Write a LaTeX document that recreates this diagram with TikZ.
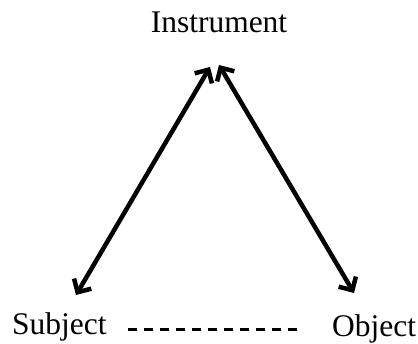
\documentclass[tikz,border=0pt]{standalone}
\usepackage{fontspec}
\setmainfont{Liberation Serif}
\usetikzlibrary{arrows.meta}
\begin{document}
\begin{tikzpicture}[x=1pt,y=1pt,
  lbl/.style={inner sep=0pt,font=\fontsize{31.5}{36}\selectfont},
  dbl/.style={line width=4.5pt,{Straight Barb[length=10pt,width=20pt]}-{Straight Barb[length=10pt,width=20pt]}},
  dsh/.style={line width=3pt,dash pattern=on 9pt off 7pt}]
\useasboundingbox (0,0) rectangle (418,-344);
\node[lbl,anchor=base] (ins) at (219,-33) {Instrument};
\node[lbl,anchor=base west] (sub) at (12,-335) {Subject};
\node[lbl,anchor=base west] (obj) at (332,-337) {Object};
\coordinate (a1) at (210,-67);
\coordinate (a2) at (76,-295);
\coordinate (b1) at (219,-65);
\coordinate (b2) at (354,-293);
\coordinate (d1) at (128,-330);
\coordinate (d2) at (298,-330);
\draw[dbl] (a2) -- (a1);
\draw[dbl] (b1) -- (b2);
\draw[dsh] (d1) -- (d2);
\end{tikzpicture}
\end{document}
